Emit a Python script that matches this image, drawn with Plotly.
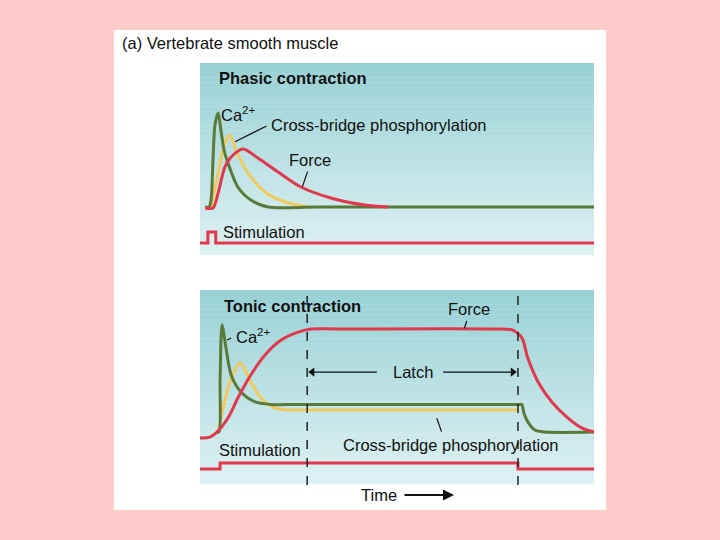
import plotly.graph_objects as go

# ---------------- data (time in arbitrary units 0-100, signal in arbitrary units) -------------
# Phasic contraction
ph_ca_t = [1.3, 2.3, 2.8, 3.3, 3.8, 4.6, 5.3, 6.1, 7.1, 9.6, 12.9, 17.3, 30.0, 100.0]
ph_ca_v = [0.0, 0.0, 3.6, 24.5, 42.7, 49.0, 40.1, 29.7, 22.9, 10.4, 3.6, 0.0, 0.0, 0.0]

ph_xb_t = [2.8, 4.6, 6.3, 7.6, 9.1, 12.2, 16.5, 21.6, 27.4]
ph_xb_v = [0.0, 17.7, 33.3, 37.5, 29.7, 17.7, 7.8, 2.6, 0.0]

ph_f_t = [1.3, 3.3, 4.6, 6.3, 7.9, 10.9, 14.7, 19.8, 25.6, 33.2, 41.9, 47.7]
ph_f_v = [-0.5, -0.5, 7.3, 20.8, 26.0, 30.2, 25.5, 18.2, 10.4, 4.7, 1.0, 0.0]

ph_stim_t = [0.0, 2.0, 4.0, 100.0]
ph_stim_v = [-18.8, -13.0, -18.8, -18.8]

# Tonic contraction
to_ca_t = [4.1, 4.8, 5.1, 5.6, 6.6, 7.9, 10.4, 14.0, 18.0, 25.0, 81.2, 81.7, 82.2, 83.2, 85.0, 87.6, 100.0]
to_ca_v = [0.0, 0.0, 26.8, 55.2, 43.3, 29.4, 20.6, 15.5, 14.2, 14.2, 14.2, 14.2, 9.8, 5.2, 1.0, 0.0, 0.0]

to_xb_t = [4.6, 7.6, 10.2, 12.9, 15.5, 19.0, 22.0, 30.0, 80.7]
to_xb_v = [0.0, 25.8, 35.6, 25.8, 17.5, 12.4, 11.4, 11.4, 11.4]

to_f_t = [0.0, 2.5, 4.1, 7.1, 9.6, 12.9, 16.5, 20.6, 24.9, 28.2, 35.0, 75.0, 79.2, 81.7, 83.2,
          85.8, 89.3, 93.4, 97.0, 100.0]
to_f_v = [-3.1, -2.6, -0.5, 7.2, 17.5, 29.4, 39.7, 47.4, 51.5, 53.1, 53.1, 53.1, 52.6, 48.5, 38.1,
          25.8, 15.5, 7.2, 2.0, 0.0]

to_stim_t = [0.0, 5.1, 80.7, 100.0]
to_stim_v = [-19.1, -16.0, -19.1, -19.1]

latch_start, latch_end = 27.2, 80.7
latch_level = 30.9
latch_gap = (44.9, 61.7)   # where the arrows stop around the "Latch" label

RED = "#e0384c"
GREEN = "#5a7a3a"
YELLOW = "#f2ca5c"
FONT = "Arial, Liberation Sans, sans-serif"

fig = go.Figure()

def add(t, v, color, xa, ya, shape="spline"):
    fig.add_trace(go.Scatter(x=t, y=v, mode="lines", xaxis=xa, yaxis=ya,
                             line=dict(color=color, width=3, shape=shape, smoothing=0.8),
                             hoverinfo="skip", showlegend=False))

add(ph_xb_t, ph_xb_v, YELLOW, "x", "y")
add(ph_ca_t, ph_ca_v, GREEN, "x", "y")
add(ph_f_t, ph_f_v, RED, "x", "y")
add(ph_stim_t, ph_stim_v, RED, "x", "y", "hv")

add(to_xb_t, to_xb_v, YELLOW, "x2", "y2")
add(to_ca_t, to_ca_v, GREEN, "x2", "y2")
add(to_f_t, to_f_v, RED, "x2", "y2")
add(to_stim_t, to_stim_v, RED, "x2", "y2", "hv")

# latch arrows: shafts + heads
for a, b in ((latch_start + 1.5, latch_gap[0]), (latch_gap[1], latch_end - 1.5)):
    fig.add_trace(go.Scatter(x=[a, b], y=[latch_level, latch_level], mode="lines",
                             xaxis="x2", yaxis="y2", line=dict(color="#111111", width=1.3),
                             hoverinfo="skip", showlegend=False))
fig.add_trace(go.Scatter(x=[latch_start + 1.3, latch_end - 1.3], y=[latch_level, latch_level],
                         mode="markers", xaxis="x2", yaxis="y2",
                         marker=dict(symbol=["triangle-left", "triangle-right"], size=8,
                                     color="#111111", line=dict(width=0)),
                         hoverinfo="skip", showlegend=False))

# ---------------- backgrounds ----------------
W, H = 720, 540
shapes = [dict(type="rect", xref="paper", yref="paper", x0=114 / W, x1=606 / W,
               y0=1 - 510 / H, y1=1 - 30 / H, fillcolor="white", line=dict(width=0), layer="below")]

def gradient(top_px, bot_px, n=40):
    c0 = (152, 209, 213)
    c1 = (222, 241, 243)
    h = (bot_px - top_px) / n
    for i in range(n):
        f = (i + 0.5) / n
        c = tuple(int(round(c0[k] + (c1[k] - c0[k]) * f)) for k in range(3))
        shapes.append(dict(type="rect", xref="paper", yref="paper", x0=200 / W, x1=594 / W,
                           y0=1 - (top_px + (i + 1) * h + 0.3) / H, y1=1 - (top_px + i * h) / H,
                           fillcolor="rgb(%d,%d,%d)" % c, line=dict(width=0), layer="below"))

gradient(63, 255)
gradient(290, 484)

for xv in (latch_start, latch_end):
    shapes.append(dict(type="line", xref="x2", yref="paper", x0=xv, x1=xv,
                       y0=1 - 485 / H, y1=1 - 287 / H,
                       line=dict(color="#222222", width=1.5, dash="dash")))

# leader lines
def leader(xa, ya, x0, y0, x1, y1):
    shapes.append(dict(type="line", xref=xa, yref=ya, x0=x0, y0=y0, x1=x1, y1=y1,
                       line=dict(color="#111111", width=1.2)))

leader("x", "y", 8.9, 34.0, 16.9, 42.2)
leader("x", "y", 26.0, 10.6, 27.3, 18.4)
leader("x2", "y2", 67.1, 53.4, 67.7, 57.2)
leader("x2", "y2", 6.9, 47.4, 7.9, 48.5)
leader("x2", "y2", 60.1, 7.1, 61.3, 0.2)

# ---------------- annotations ----------------
ann = []

def txt(xa, ya, x, y, s, bold=False, size=16.5, xanchor="left"):
    ann.append(dict(xref=xa, yref=ya, x=x, y=y, text=("<b>%s</b>" % s) if bold else s,
                    showarrow=False, xanchor=xanchor, yanchor="middle",
                    font=dict(family=FONT, size=size, color="#111111")))

txt("paper", "paper", 120 / W, 1 - 43 / H, "(a) Vertebrate smooth muscle")
txt("x", "y", 4.3, 67.2, "Phasic contraction", bold=True)
txt("x", "y", 4.9, 48.4, "Ca<sup>2+</sup>")
txt("x", "y", 17.4, 42.7, "Cross-bridge phosphorylation")
txt("x", "y", 22.0, 24.5, "Force")
txt("x", "y", 5.3, -13.0, "Stimulation")

txt("x2", "y2", 5.6, 64.9, "Tonic contraction", bold=True)
txt("x2", "y2", 62.4, 63.4, "Force")
txt("x2", "y2", 8.6, 49.5, "Ca<sup>2+</sup>")
txt("x2", "y2", 35.7, -6.7, "Cross-bridge phosphorylation")
txt("x2", "y2", 4.2, -9.3, "Stimulation")
txt("x2", "y2", 54.1, latch_level, "Latch", xanchor="center")

# "Time" label with its arrow
ann.append(dict(xref="paper", yref="paper", x=454 / W, y=1 - 495 / H, ax=-75, ay=0,
                text="Time", font=dict(family=FONT, size=16.5, color="#111111"),
                showarrow=True, arrowhead=2, arrowsize=1.1, arrowwidth=2, startstandoff=6,
                arrowcolor="#111111"))

axis_common = dict(visible=False, showgrid=False, zeroline=False, fixedrange=True)
fig.update_layout(
    width=W, height=H, margin=dict(l=0, r=0, t=0, b=0),
    paper_bgcolor="#ffcccc", plot_bgcolor="rgba(0,0,0,0)",
    xaxis=dict(domain=[200 / W, 594 / W], range=[0, 100], **axis_common),
    yaxis=dict(domain=[1 - 255 / H, 1 - 63 / H], range=[-25, 75], **axis_common),
    xaxis2=dict(domain=[200 / W, 594 / W], range=[0, 100], anchor="y2", **axis_common),
    yaxis2=dict(domain=[1 - 484 / H, 1 - 290 / H], range=[-26.8, 73.2], anchor="x2", **axis_common),
    shapes=shapes, annotations=ann, showlegend=False,
    font=dict(family=FONT),
)

fig.write_html("out.html", config={"displayModeBar": False},
               post_script="document.body.style.margin='0';document.body.style.background='#ffcccc';")
